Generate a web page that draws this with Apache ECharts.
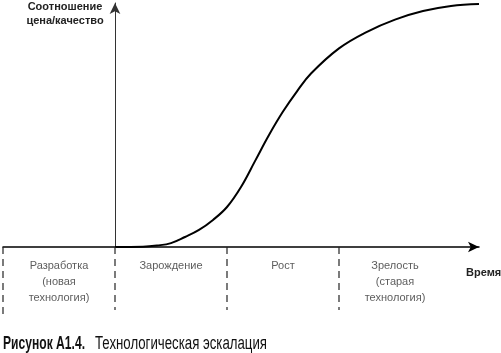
<!DOCTYPE html>
<html>
<head>
<meta charset="utf-8">
<script src="https://cdn.jsdelivr.net/npm/echarts@6/dist/echarts.min.js"></script>
<style>
html, body { margin: 0; padding: 0; background: #fff; }
#chart { width: 501px; height: 353px; }
</style>
</head>
<body>
<div id="chart"></div>
<script>
// кривая: x - фазы (1 = одна фаза), y - соотношение цена/качество (0..100)
var curveX = [0, 0.25, 0.375, 0.5, 0.625, 0.75, 0.875, 1.0, 1.125, 1.25, 1.375, 1.5, 1.625, 1.75, 2.0, 2.25, 2.5, 2.75, 3.0, 3.25];
var curveY = [0, 0.1, 0.6, 1.6, 4.1, 7.0, 11.1, 16.4, 24.6, 35.2, 45.9, 55.5, 63.8, 71.1, 81.4, 88.2, 93.2, 96.7, 98.8, 99.6];
// границы фаз
var phaseBounds = [-1, 0, 1, 2];
// подписи фаз (центры)
var phaseCenters = [-0.5, 0.5, 1.5, 2.5];
var phaseNames = ['Разработка\n(новая\nтехнология)', 'Зарождение', 'Рост', 'Зрелость\n(старая\nтехнология)'];
var yAxisName = 'Соотношение\nцена/качество';
var xAxisName = 'Время';
var captionBold = 'Рисунок А1.4.';
var captionText = 'Технологическая эскалация';

var chart = echarts.init(document.getElementById('chart'));

// узкий шрифт подписи рисунка: сжимаем Liberation Sans по ширине
function fitScale(text, font, width) {
    var ctx = document.createElement('canvas').getContext('2d');
    ctx.font = font;
    return width / ctx.measureText(text).width;
}
var boldFont = 'bold 18px "Liberation Sans"';
var regFont = '18px "Liberation Sans"';

var curveData = curveX.map(function (x, i) { return [x, curveY[i]]; });

var series = [{
    type: 'line',
    xAxisIndex: 0, yAxisIndex: 0,
    data: curveData,
    smooth: 0.4,
    showSymbol: false,
    lineStyle: { color: '#000', width: 2 }
}];

// пунктирные разделители фаз
phaseBounds.forEach(function (b, i) {
    series.push({
        type: 'line',
        xAxisIndex: 1, yAxisIndex: 1,
        data: [[b, 0], [b, i == 0 ? 71 : 63]],
        showSymbol: false,
        silent: true,
        lineStyle: { color: '#222', width: 1.2, type: [7, 5] }
    });
});

// подписи фаз
series.push({
    type: 'scatter',
    xAxisIndex: 1, yAxisIndex: 1,
    symbolSize: 0,
    silent: true,
    data: phaseCenters.map(function (c, i) { return { value: [c, 11], name: phaseNames[i] }; }),
    label: {
        show: true,
        position: 'bottom',
        distance: 0,
        formatter: function (p) { return p.name; },
        color: '#333',
        fontFamily: 'Liberation Sans',
        fontSize: 11,
        lineHeight: 16,
        align: 'center'
    }
});

var option = {
    animation: false,
    backgroundColor: '#fff',
    grid: [
        { left: 3, right: 22, top: 3, bottom: 106 },
        { left: 3, right: 22, top: 247, height: 71 }
    ],
    xAxis: [{
        type: 'value', gridIndex: 0, min: -1, max: 3.25,
        axisLine: { show: true, onZero: true, lineStyle: { color: '#000', width: 1.5 }, symbol: ['none', 'arrow'], symbolSize: [8, 11] },
        axisTick: { show: false }, axisLabel: { show: false }, splitLine: { show: false }
    }, {
        type: 'value', gridIndex: 1, min: -1, max: 3.25, show: false
    }],
    yAxis: [{
        type: 'value', gridIndex: 0, min: 0, max: 100,
        axisLine: { show: true, onZero: true, lineStyle: { color: '#333', width: 1 }, symbol: ['none', 'arrow'], symbolSize: [8, 11] },
        axisTick: { show: false }, axisLabel: { show: false }, splitLine: { show: false }
    }, {
        type: 'value', gridIndex: 1, min: 0, max: 71, inverse: true, show: false
    }],
    graphic: [{
        type: 'text', x: 65, y: 0,
        style: {
            text: yAxisName, align: 'center', verticalAlign: 'top',
            fill: '#222', font: 'bold 11px "Liberation Sans"', lineHeight: 14
        }
    }, {
        type: 'text', x: 466, y: 273,
        style: {
            text: xAxisName, verticalAlign: 'middle',
            fill: '#222', font: 'bold 11px "Liberation Sans"'
        }
    }, {
        type: 'text', x: 3, y: 344, scaleX: fitScale(captionBold, boldFont, 82),
        style: {
            text: captionBold, verticalAlign: 'middle', fill: '#111', font: boldFont
        }
    }, {
        type: 'text', x: 95, y: 344, scaleX: fitScale(captionText, regFont, 172),
        style: {
            text: captionText, verticalAlign: 'middle', fill: '#111', font: regFont
        }
    }],
    series: series
};

chart.setOption(option);
</script>
</body>
</html>
